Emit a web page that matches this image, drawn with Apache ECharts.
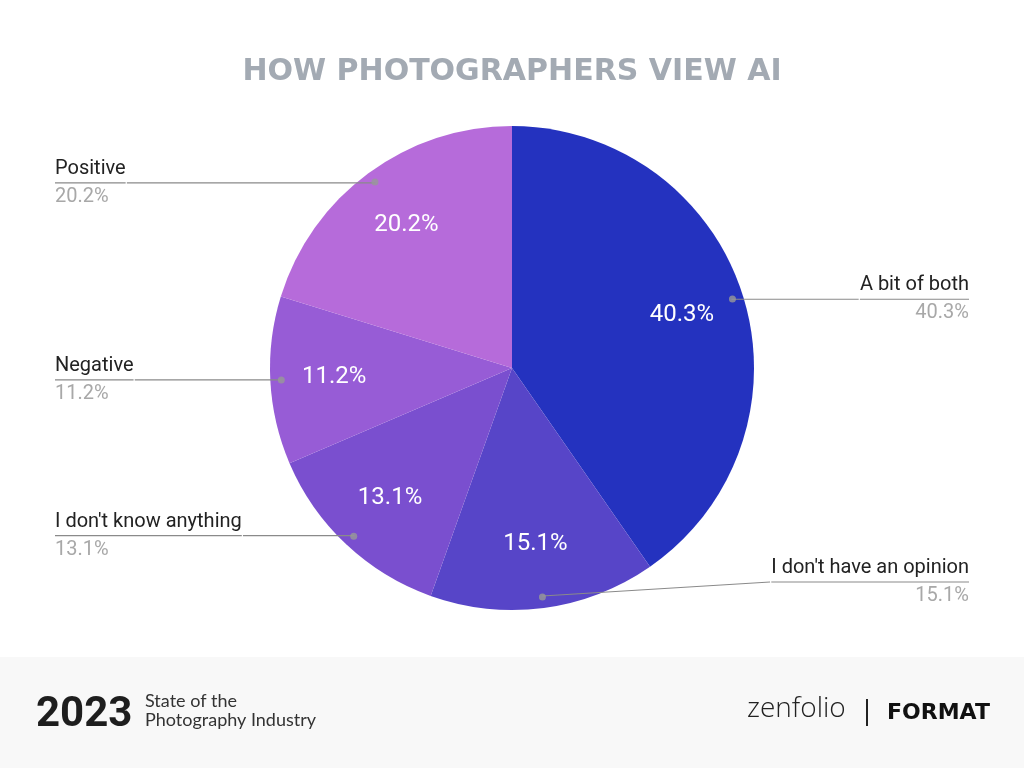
<!DOCTYPE html>
<html><head><meta charset="utf-8">
<script src="https://cdn.jsdelivr.net/npm/echarts@6/dist/echarts.min.js"></script>
<style>html,body{margin:0;padding:0;background:#fff}#c{width:1024px;height:768px}</style>
</head><body><div id="c"></div>
<script>
const categories = ['A bit of both', "I don't have an opinion", "I don't know anything", 'Negative', 'Positive'];
const values = [40.3, 15.1, 13.1, 11.2, 20.2];
const colors = ['#2432BF', '#5745C8', '#7A4FCF', '#975CD6', '#B66BDA'];

const total = values.reduce((a, b) => a + b, 0);
const mids = [];
let acc = 0;
values.forEach(v => { mids.push(acc + v / 2); acc += v; });

const center = [512, 368];
const R = 242;
const font = 'Roboto';
const pieData = categories.map((c, i) => ({ name: c, value: values[i], itemStyle: { color: colors[i] } }));

const raise = 14;
const chart = echarts.init(document.getElementById('c'));
chart.setOption({
  animation: false,
  title: {
    text: 'HOW PHOTOGRAPHERS VIEW AI', left: 'center', top: 52,
    textStyle: { color: '#A3AAB3', fontSize: 30, fontWeight: 'bold', fontFamily: 'DejaVu Sans' }
  },
  polar: { center: center, radius: R },
  angleAxis: { type: 'value', min: 0, max: total, startAngle: 90, clockwise: true, show: false },
  radiusAxis: { type: 'value', min: 0, max: R, show: false },
  graphic: [
    { type: 'rect', shape: { x: 0, y: 657, width: 1024, height: 111 }, style: { fill: '#F8F8F8' }, z: -10 },
    { type: 'text', left: 36, top: 694, style: { text: '2023', font: 'bold 42px Roboto', fill: '#1E1E1E' } },
    { type: 'text', left: 145, top: 692, style: { text: 'State of the\nPhotography Industry', font: '18px Lato', lineHeight: 19, fill: '#333' } },
    { type: 'text', left: 747, top: 695, style: { text: 'zenfolio', font: '300 28px "Open Sans"', fill: '#222' } },
    { type: 'rect', shape: { x: 866, y: 699, width: 2, height: 27 }, style: { fill: '#222' } },
    { type: 'text', left: 887, top: 702, style: { text: 'FORMAT', font: '900 22px "DejaVu Sans"', fill: '#111' } }
  ],
  series: [
    {
      type: 'pie', center: center, radius: R, startAngle: 90, clockwise: true, silent: true,
      data: pieData, label: { show: false }, labelLine: { show: false }, z: 1
    },
    {
      type: 'pie', center: center, radius: [0, 350], startAngle: 90, clockwise: true, silent: true,
      data: pieData.map(d => ({ name: d.name, value: d.value, itemStyle: { color: 'rgba(0,0,0,0)' } })),
      label: { show: true, position: 'inside', color: '#fff', fontSize: 24, fontFamily: font,
        formatter: p => p.value.toFixed(1) + '%' },
      labelLine: { show: false }, z: 2
    },
    {
      type: 'pie', center: center, radius: 230, startAngle: 90, clockwise: true, silent: true,
      data: pieData.map(d => ({ name: d.name, value: d.value, itemStyle: { color: 'rgba(0,0,0,0)' } })),
      label: {
        show: true, position: 'outside', alignTo: 'edge', edgeDistance: 55, distanceToLabelLine: 0,
        formatter: p => '{n|' + p.name + '}\n{hr|}\n{p|' + p.value.toFixed(1) + '%}',
        rich: {
          n: { fontSize: 20, fontFamily: font, color: '#222', lineHeight: 26 },
          hr: { width: '100%', borderColor: '#8a8a8a', borderWidth: 1.2, height: 0, lineHeight: 2 },
          p: { fontSize: 20, fontFamily: font, color: '#A8A8A8', lineHeight: 26 }
        }
      },
      labelLayout: p => {
        if (p.dataIndex !== 1 || !p.labelLinePoints) return {};
        const pts = p.labelLinePoints;
        const end = [pts[2][0], pts[2][1] - raise];
        return { dy: -raise, labelLinePoints: [pts[0], end, end] };
      },
      labelLine: { show: true, length: 0, length2: 10, lineStyle: { color: '#8a8a8a', width: 1.2 } },
      z: 3
    },
    {
      type: 'scatter', coordinateSystem: 'polar', silent: true, symbolSize: 7,
      itemStyle: { color: '#999' },
      data: mids.map(m => [231, m]), z: 5
    }
  ]
});
</script></body></html>
